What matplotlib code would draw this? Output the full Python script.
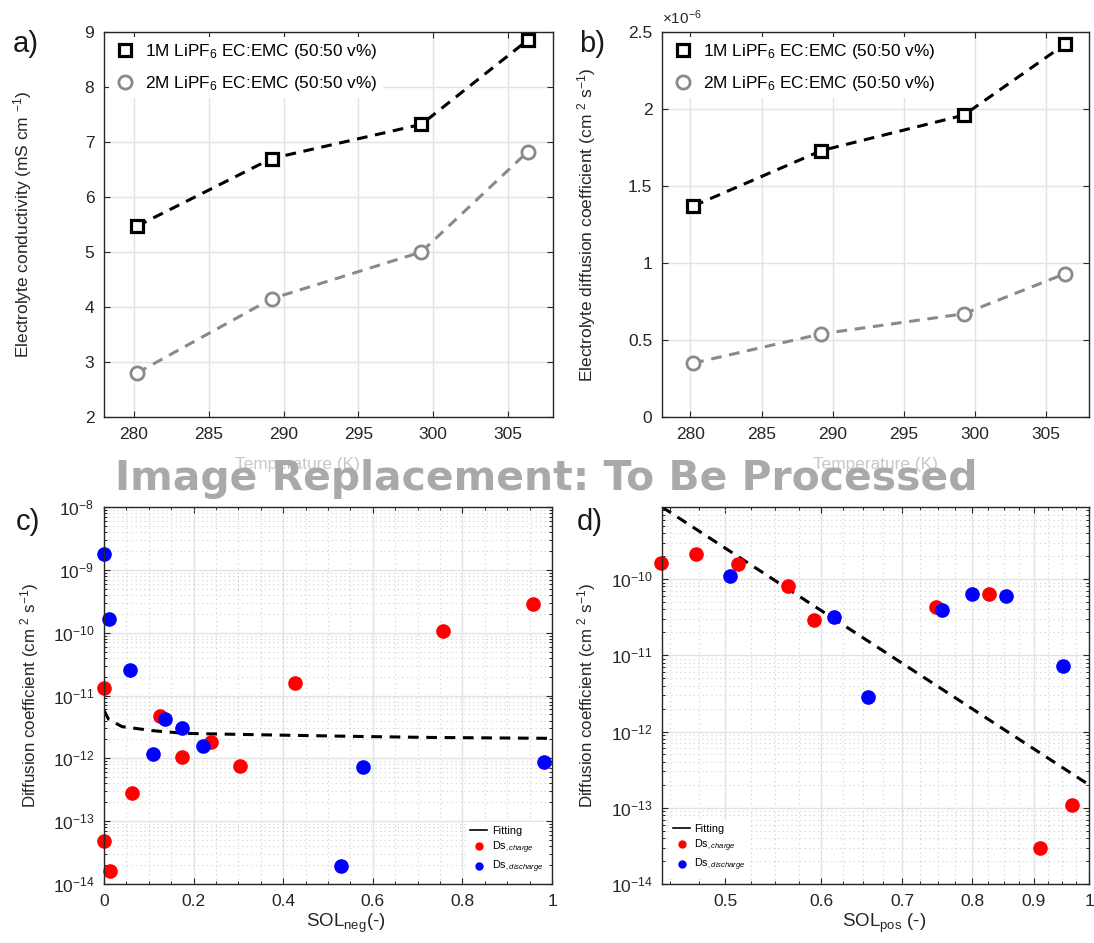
import numpy as np
import matplotlib
matplotlib.use("Agg")
import matplotlib.pyplot as plt
from matplotlib.ticker import FixedLocator, FuncFormatter, NullFormatter, LogLocator, MultipleLocator

# --- Dados ---
temp_K = [280.2, 289.2, 299.2, 306.3]
cond_1M = [5.47, 6.70, 7.32, 8.85]
cond_2M = [2.80, 4.15, 5.00, 6.82]
diff_1M = [1.37e-6, 1.73e-6, 1.96e-6, 2.42e-6]
diff_2M = [0.35e-6, 0.54e-6, 0.67e-6, 0.93e-6]

sol_neg_chg = [0.0, 0.0, 0.014, 0.062, 0.124, 0.174, 0.239, 0.304, 0.426, 0.757, 0.958]
ds_neg_chg = [1.3e-11, 4.8e-14, 1.6e-14, 2.8e-13, 4.7e-12, 1.05e-12, 1.8e-12, 7.6e-13, 1.6e-11, 1.05e-10, 2.9e-10]
sol_neg_dis = [0.0, 0.012, 0.057, 0.110, 0.137, 0.174, 0.220, 0.530, 0.578, 0.982]
ds_neg_dis = [1.8e-9, 1.66e-10, 2.5e-11, 1.17e-12, 4.2e-12, 3.0e-12, 1.6e-12, 1.9e-14, 7.2e-13, 8.9e-13]
sol_neg_fit = [0.0, 0.01, 0.04, 0.11, 0.18, 0.24, 0.41, 0.57, 0.73, 1.0]
ds_neg_fit = [5.8e-12, 4.2e-12, 3.2e-12, 2.75e-12, 2.5e-12, 2.45e-12, 2.33e-12, 2.23e-12, 2.15e-12, 2.08e-12]

sol_pos_chg = [0.442, 0.473, 0.512, 0.563, 0.592, 0.747, 0.827, 0.911, 0.969]
ds_pos_chg = [1.62e-10, 2.15e-10, 1.59e-10, 8.2e-11, 2.9e-11, 4.25e-11, 6.36e-11, 2.94e-14, 1.1e-13]
sol_pos_dis = [0.504, 0.615, 0.656, 0.756, 0.800, 0.853, 0.952]
ds_pos_dis = [1.08e-10, 3.15e-11, 2.8e-12, 3.98e-11, 6.4e-11, 5.9e-11, 7.2e-12]
sol_pos_fit = [0.443, 1.0]
ds_pos_fit = [8.8e-10, 2.0e-13]

LABEL_1M = "1M LiPF$_6$ EC:EMC (50:50 v%)"
LABEL_2M = "2M LiPF$_6$ EC:EMC (50:50 v%)"

# --- Estilo ---
plt.rcParams['font.family'] = ['Liberation Sans', 'DejaVu Sans']
plt.rcParams['mathtext.fontset'] = 'custom'
plt.rcParams['mathtext.rm'] = 'Liberation Sans'
plt.rcParams['mathtext.it'] = 'Liberation Sans:italic'
plt.rcParams['mathtext.bf'] = 'Liberation Sans:bold'

W, H = 1094, 943
fig = plt.figure(figsize=(W / 100, H / 100), dpi=100)


def box(l, t, r, b):
    return [l / W, 1 - b / H, (r - l) / W, (b - t) / H]


def style_axes(ax):
    ax.tick_params(direction='in', top=True, right=True, length=4, width=0.8,
                   labelsize=12.5, colors='#262626', pad=7)
    ax.tick_params(which='minor', direction='in', top=True, right=True, length=2)
    for s in ax.spines.values():
        s.set_linewidth(1.0)
        s.set_color('#262626')
    ax.set_axisbelow(True)


DASH = (0, (3.5, 2.5))
GRID = '#e3e3e3'


def temp_panel(ax, y1, y2, ylabel):
    ax.plot(temp_K, y1, color='black', lw=2.2, ls=DASH)
    ax.plot(temp_K, y2, color='#8a8a8a', lw=2.2, ls=DASH)
    ax.plot(temp_K, y1, ls='none', marker='s', ms=8, mfc='white', mec='black', mew=2.3,
            label=LABEL_1M, clip_on=False)
    ax.plot(temp_K, y2, ls='none', marker='o', ms=9.5, mfc='white', mec='#8a8a8a', mew=2.0,
            label=LABEL_2M, clip_on=False)
    ax.set_xlim(278, 308)
    ax.set_xticks([280, 285, 290, 295, 300, 305])
    ax.grid(True, color=GRID, lw=1.0)
    style_axes(ax)
    ax.set_ylabel(ylabel, fontsize=12.5, color='#262626')
    ax.set_xlabel('Temperature (K)', fontsize=12.4, color='#c8c8c8')
    leg = ax.legend(loc='upper left', fontsize=12.4, frameon=True, framealpha=1,
                    edgecolor='none', facecolor='white', labelspacing=0.75,
                    handletextpad=0.6, borderaxespad=0.3, handlelength=1.2,
                    borderpad=0.3)
    leg.get_frame().set_linewidth(0)


# --- a) ---
ax_a = fig.add_axes(box(104, 32, 553, 417))
temp_panel(ax_a, cond_1M, cond_2M, 'Electrolyte conductivity (mS cm $^{-1}$)')
ax_a.set_ylim(2, 9)
ax_a.set_yticks(range(2, 10))
ax_a.xaxis.set_label_coords(0.43, -0.105)
ax_a.yaxis.set_label_coords(-0.155, 0.5)

# --- b) ---
ax_b = fig.add_axes(box(662, 32, 1089, 417))
temp_panel(ax_b, diff_1M, diff_2M, 'Electrolyte diffusion coefficient (cm $^2$ s$^{-1}$)')
ax_b.set_ylim(0, 2.5e-6)
ax_b.set_yticks(np.array([0, 0.5, 1, 1.5, 2, 2.5]) * 1e-6)
ax_b.yaxis.set_major_formatter(FuncFormatter(lambda v, p: f"{v * 1e6:g}"))
ax_b.text(0.0, 1.012, r"$\times10^{-6}$", transform=ax_b.transAxes, fontsize=11,
          color='#262626', va='bottom', ha='left')
ax_b.xaxis.set_label_coords(0.5, -0.105)
ax_b.yaxis.set_label_coords(-0.15, 0.5)


def sol_panel(ax, x_chg, y_chg, x_dis, y_dis, x_fit, y_fit):
    ax.plot(x_fit, y_fit, color='black', lw=2.2, ls=DASH)
    ax.plot(x_chg, y_chg, ls='none', marker='o', ms=9.5, color='red', clip_on=False)
    ax.plot(x_dis, y_dis, ls='none', marker='o', ms=9.5, color='blue', clip_on=False)
    ax.set_yscale('log')
    ax.grid(True, which='major', color=GRID, lw=1.0)
    ax.grid(True, which='minor', color='#d0d0d0', lw=0.8, ls=(0, (1, 3)))
    style_axes(ax)
    ax.set_ylabel('Diffusion coefficient (cm $^2$ s$^{-1}$)', fontsize=12.2, color='#262626')
    h = [plt.Line2D([], [], color='black', lw=1.2),
         plt.Line2D([], [], ls='none', marker='o', ms=5, color='red'),
         plt.Line2D([], [], ls='none', marker='o', ms=5, color='blue')]
    return h


LEG_LABELS = ['Fitting', 'Ds$_{,charge}$', 'Ds$_{,discharge}$']

# --- c) ---
ax_c = fig.add_axes(box(104, 507, 552, 884))
hc = sol_panel(ax_c, sol_neg_chg, ds_neg_chg, sol_neg_dis, ds_neg_dis, sol_neg_fit, ds_neg_fit)
ax_c.set_xlim(0, 1)
ax_c.set_ylim(1e-14, 1e-8)
ax_c.set_yticks(10.0 ** np.arange(-14, -7))
ax_c.xaxis.set_major_locator(MultipleLocator(0.2))
ax_c.xaxis.set_major_formatter(FuncFormatter(lambda v, p: f"{v:g}"))
ax_c.xaxis.set_minor_locator(MultipleLocator(0.05))
ax_c.set_xlabel(r'SOL$_{\mathrm{neg}}$(-)', fontsize=13.5, color='#262626')
ax_c.xaxis.set_label_coords(0.54, -0.075)
ax_c.legend(hc, LEG_LABELS, loc='lower right', fontsize=7.8, frameon=True, framealpha=1,
            edgecolor='none', facecolor='white', handlelength=1.6, handletextpad=0.4,
            labelspacing=0.3, borderaxespad=0.4)
ax_c.yaxis.set_label_coords(-0.14, 0.5)

# --- d) ---
ax_d = fig.add_axes(box(662, 507, 1089, 884))
hd = sol_panel(ax_d, sol_pos_chg, ds_pos_chg, sol_pos_dis, ds_pos_dis, sol_pos_fit, ds_pos_fit)
ax_d.set_xscale('log')
ax_d.set_xlim(0.443, 1.0)
ax_d.set_ylim(1e-14, 8.8e-10)
ax_d.set_yticks(10.0 ** np.arange(-14, -9))
ax_d.yaxis.set_minor_locator(LogLocator(subs=np.arange(2, 10), numticks=20))
ax_d.yaxis.set_minor_formatter(NullFormatter())
ax_d.xaxis.set_major_locator(FixedLocator([0.5, 0.6, 0.7, 0.8, 0.9, 1.0]))
ax_d.xaxis.set_major_formatter(FuncFormatter(lambda v, p: f"{v:g}"))
ax_d.xaxis.set_minor_locator(FixedLocator(np.arange(0.45, 1.0, 0.025)))
ax_d.xaxis.set_minor_formatter(NullFormatter())
ax_d.set_xlabel(r'SOL$_{\mathrm{pos}}$ (-)', fontsize=13.5, color='#262626')
ax_d.xaxis.set_label_coords(0.52, -0.075)
ax_d.legend(hd, LEG_LABELS, loc='lower left', fontsize=7.8, frameon=True, framealpha=1,
            edgecolor='none', facecolor='white', handlelength=1.6, handletextpad=0.4,
            labelspacing=0.3, borderaxespad=0.6)
ax_d.yaxis.set_label_coords(-0.15, 0.5)

# rótulos dos painéis
for lbl, x, y in [('a)', 26, 44), ('b)', 592, 44), ('c)', 28, 522), ('d)', 590, 522)]:
    fig.text(x / W, 1 - y / H, lbl, fontsize=21, ha='center', va='center', color='#1a1a1a')

# texto sobreposto
fig.text(546 / W, 1 - 490 / H, 'Image Replacement: To Be Processed', fontsize=29.4,
         fontweight='bold', family='DejaVu Sans', color='#a9a9a9', ha='center',
         va='baseline', zorder=10)

fig.savefig('out.png', dpi=100)
